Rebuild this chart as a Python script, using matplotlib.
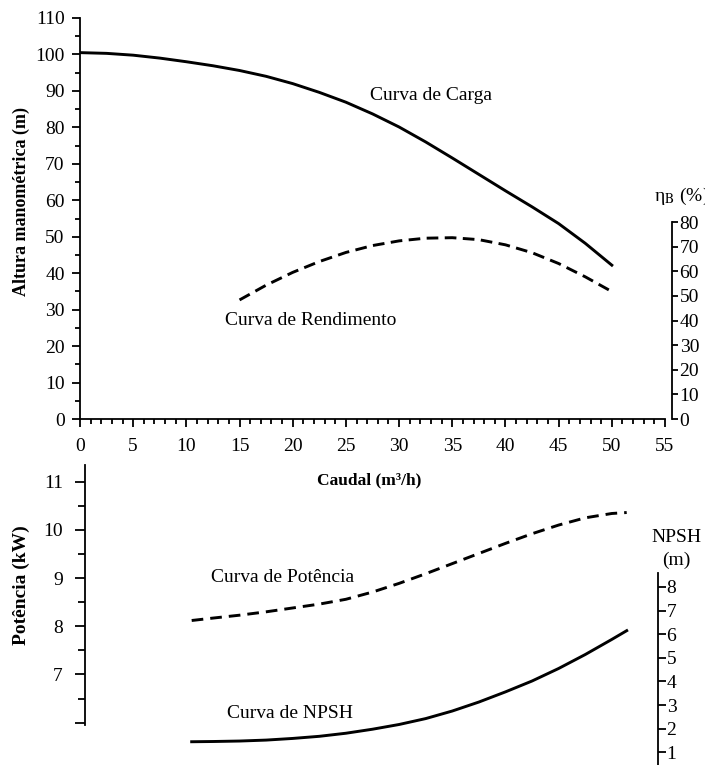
import matplotlib
matplotlib.use("Agg")
import matplotlib.pyplot as plt
from matplotlib.ticker import MultipleLocator, FixedLocator

plt.rcParams['font.family'] = ['Liberation Serif', 'DejaVu Serif']
plt.rcParams['mathtext.fontset'] = 'stix'

# --- dados ---
caudal_carga = [0, 2.5, 5, 7.5, 10, 12.5, 15, 17.5, 20, 22.5, 25, 27.5,
                30, 32.5, 35, 37.5, 40, 42.5, 45, 47.5, 50]
altura = [100.5, 100.3, 99.8, 99.0, 98.0, 96.9, 95.6, 94.0, 92.0, 89.6, 86.9, 83.7,
          80.1, 76.0, 71.6, 67.1, 62.6, 58.2, 53.6, 48.2, 42.2]

caudal_rend = [15, 17.5, 20, 22.5, 25, 27.5, 30, 32.5, 35, 37.5, 40, 42.5, 45, 47.5, 50]
rendimento = [48.4, 54.4, 59.6, 64.0, 67.7, 70.5, 72.4, 73.5, 73.7, 72.9, 70.8, 67.6,
              63.2, 57.8, 51.8]

caudal_inf = [10.5, 12.5, 15, 17.5, 20, 22.5, 25, 27.5, 30, 32.5, 35, 37.5, 40,
              42.5, 45, 47.5, 50, 51.4]
potencia = [8.12, 8.17, 8.23, 8.30, 8.38, 8.46, 8.56, 8.71, 8.89, 9.09, 9.30, 9.51,
            9.72, 9.92, 10.10, 10.25, 10.34, 10.36]
npsh = [1.45, 1.46, 1.48, 1.52, 1.59, 1.68, 1.81, 1.98, 2.18, 2.43, 2.75, 3.13,
        3.56, 4.02, 4.55, 5.14, 5.78, 6.15]

xticks = list(range(0, 60, 5))
ticks_altura = list(range(0, 120, 10))
ticks_rend = list(range(0, 90, 10))
ticks_pot = [6, 7, 8, 9, 10, 11]
rotulos_pot = ['', '7', '8', '9', '10', '11']
ticks_pot_menor = [6.5, 7.5, 8.5, 9.5, 10.5]
ticks_npsh = list(range(1, 9))

W, H = 705, 765
fig = plt.figure(figsize=(W / 100, H / 100), dpi=100)


def px(x, y):
    return x / W, 1 - y / H


def rect(x0, y0, x1, y1):
    return [x0 / W, 1 - y1 / H, (x1 - x0) / W, (y1 - y0) / H]


LW = 2.1
SP = 1.3
FS = 14

# --- gráfico superior: altura e rendimento ---
ax = fig.add_axes(rect(80, 18, 665, 419))
ax.plot(caudal_carga, altura, color='black', lw=LW)
ax.set_xlim(0, 55)
ax.set_ylim(0, 110)
ax.set_xticks(xticks)
ax.xaxis.set_minor_locator(MultipleLocator(1))
ax.set_yticks(ticks_altura)
ax.yaxis.set_minor_locator(MultipleLocator(5))
for s in ['top', 'right']:
    ax.spines[s].set_visible(False)
for s in ['left', 'bottom']:
    ax.spines[s].set_linewidth(SP)
ax.tick_params(axis='both', which='major', direction='out', length=6, width=SP,
               labelsize=FS)
ax.tick_params(axis='x', which='major', pad=8)
ax.tick_params(axis='y', which='major', pad=5)
ax.tick_params(axis='both', which='minor', direction='out', length=3.8, width=SP)
ax.patch.set_alpha(0)

ax2 = ax.twinx()
ax2.plot(caudal_rend, rendimento, color='black', lw=LW, dashes=(4, 2.2))
ax2.set_ylim(0, 163)
ax2.set_yticks(ticks_rend)
for s in ['top', 'left', 'bottom']:
    ax2.spines[s].set_visible(False)
ax2.spines['right'].set_position(('outward', 5))
ax2.spines['right'].set_bounds(0, 80)
ax2.spines['right'].set_linewidth(SP)
ax2.tick_params(axis='y', direction='out', length=4, width=SP, pad=1.5, labelsize=FS)

fig.text(*px(370, 95), 'Curva de Carga', fontsize=FS, ha='left', va='center')
fig.text(*px(225, 320), 'Curva de Rendimento', fontsize=FS, ha='left', va='center')
fig.text(*px(654, 196), r'η$_{\mathrm{B}}$ (%)', fontsize=FS, ha='left', va='center')
fig.text(*px(21, 202), 'Altura manométrica (m)', fontsize=13, fontweight='bold',
         rotation=90, ha='center', va='center')
fig.text(*px(369, 480), 'Caudal (m³/h)', fontsize=12.5, fontweight='bold',
         ha='center', va='center')

# --- gráfico inferior: potência e NPSH ---
ax3 = fig.add_axes(rect(80, 465, 665, 765))
ax3.plot(caudal_inf, potencia, color='black', lw=LW, dashes=(4, 2.4))
ax3.set_xlim(0, 55)
ax3.set_ylim(5.122, 11.346)
ax3.set_yticks(ticks_pot)
ax3.set_yticklabels(rotulos_pot)
ax3.yaxis.set_minor_locator(FixedLocator(ticks_pot_menor))
for s in ['top', 'right', 'bottom']:
    ax3.spines[s].set_visible(False)
ax3.spines['left'].set_position(('data', 0.47))
ax3.spines['left'].set_bounds(5.95, 11.346)
ax3.spines['left'].set_linewidth(SP)
ax3.set_xticks([])
ax3.tick_params(axis='y', which='major', direction='out', length=7, width=SP,
                pad=9, labelsize=FS)
ax3.tick_params(axis='y', which='minor', direction='out', length=5, width=SP)
ax3.patch.set_alpha(0)

ax4 = ax3.twinx()
ax4.plot(caudal_inf, npsh, color='black', lw=LW)
ax4.set_ylim(0.466, 13.16)
ax4.set_yticks(ticks_npsh)
for s in ['top', 'left', 'bottom']:
    ax4.spines[s].set_visible(False)
ax4.spines['right'].set_position(('data', 54.3))
ax4.spines['right'].set_bounds(0.466, 8.6)
ax4.spines['right'].set_linewidth(SP)
ax4.tick_params(axis='y', direction='out', length=5.5, width=SP, pad=1, labelsize=FS)

fig.text(*px(211, 577), 'Curva de Potência', fontsize=FS, ha='left', va='center')
fig.text(*px(227, 713), 'Curva de NPSH', fontsize=FS, ha='left', va='center')
fig.text(*px(676, 537), 'NPSH', fontsize=FS, ha='center', va='center')
fig.text(*px(676, 560), '(m)', fontsize=FS, ha='center', va='center')
fig.text(*px(21, 585), 'Potência (kW)', fontsize=14, fontweight='bold',
         rotation=90, ha='center', va='center')

fig.savefig('out.png', dpi=100)
